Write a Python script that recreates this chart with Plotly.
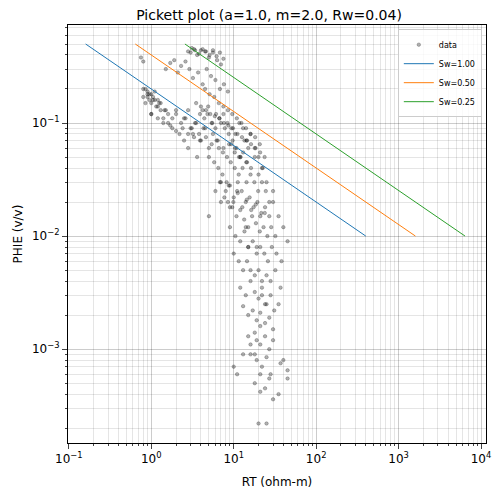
import plotly.graph_objects as go

a, m, n, Rw = 1.0, 2.0, 2.0, 0.04
sw_values = [1.00, 0.50, 0.25]
sw_colors = ["#1f77b4", "#ff7f0e", "#2ca02c"]
phi_ends = [0.5, 0.01]

rt = [0.75,0.8,0.85,0.9,0.95,1.0,1.05,1.1,1.2,1.3,0.8,0.9,1.0,1.1,1.25,1.4,1.5,0.9,1.0,1.2,
      1.5,1.7,1.9,2.1,2.3,2.6,2.9,1.6,1.8,2.0,2.2,2.5,2.8,3.1,3.5,3.9,4.4,4.9,5.5,6.1,
      3.0,3.3,3.6,4.0,4.5,5.0,5.6,6.3,7.0,3.2,3.7,4.2,4.7,5.3,6.0,6.8,7.6,8.5,
      2.5,2.8,3.2,3.6,4.0,4.5,5.0,5.6,6.2,7.0,7.8,8.7,9.7,10.8,12,13.5,15,
      4.2,4.8,5.4,6.0,6.7,7.5,8.4,9.4,10.5,11.7,13,14.5,16,18,20,22,
      5.0,5.8,6.6,7.4,8.3,9.3,10.4,11.6,13,14.5,16.2,18,20,22.5,25,
      6.5,7.3,8.2,9.2,10.3,11.5,12.8,14.3,16,17.8,19.8,22,24.5,27,30,
      7.0,8.0,9.0,10,11.2,12.5,14,15.6,17.4,19.4,21.6,24,27,30,35,
      8.5,9.6,10.8,12,13.4,15,16.7,18.6,20.7,23,25.6,28.5,32,40,45,
      9.0,10.5,12,13.5,15,17,19,21,23.5,26,29,33,38,
      10,11.5,13,14.5,16,18,20,22,25,28,32,37,
      12,14,16,18,20,22,25,28,31,35,
      13,15,17,19,21,24,27,30,
      15,18,21,24,27,30,40,45,
      16,19,22,25,28,
      18,21,24,27,35,
      20,25,10,13,16,
      5,7,9,11,14,19,
      21,30,37,45,
      15,22,24,
      11,18,19,21,
      0.8,0.85,0.95,1.05,1.15,1.3,1.45,1.6,1.8,2.0,2.3,2.6,3.0,3.4,3.8,4.3,
      1.0,1.2,1.4,1.7,2.0,2.4,2.8,3.3,3.9,4.6,5.4,6.4,7.5,8.8,10.3,12.1,14.2,
      3.5,4.0,4.6,5.2,5.9,6.7,7.6,8.6,9.8,11.1,12.6,14.3,16.2,18.4,20.9,23.7,
      4.5,5.1,5.8,6.6,7.5,8.5,9.6,10.9,12.4,14.1,16,18.2,20.7,
      6,6.8,7.7,8.7,9.9,11.2,12.7,14.4,16.3,18.5,21,23.8,
      2.8,3.1,3.4,3.8,4.2,4.6,5.1,5.6,6.2,6.8,7.5]
phie = [0.38,0.35,0.2,0.18,0.16,0.15,0.17,0.19,0.14,0.13,0.2,0.17,0.12,0.16,0.15,0.11,0.13,0.19,0.18,0.16,
        0.3,0.34,0.36,0.28,0.32,0.35,0.3,0.1,0.09,0.12,0.08,0.11,0.13,0.09,0.1,0.12,0.11,0.14,0.1,0.12,
        0.42,0.45,0.4,0.44,0.43,0.38,0.42,0.36,0.33,0.25,0.28,0.22,0.3,0.26,0.24,0.2,0.22,0.19,
        0.07,0.06,0.08,0.05,0.07,0.09,0.06,0.08,0.07,0.1,0.09,0.08,0.07,0.06,0.05,0.07,0.06,
        0.13,0.12,0.1,0.09,0.11,0.12,0.1,0.09,0.08,0.1,0.09,0.07,0.08,0.06,0.05,0.04,
        0.05,0.045,0.06,0.055,0.05,0.065,0.06,0.05,0.055,0.045,0.04,0.05,0.035,0.04,0.03,
        0.04,0.035,0.03,0.045,0.04,0.035,0.04,0.03,0.035,0.03,0.025,0.03,0.025,0.02,0.025,
        0.03,0.025,0.028,0.022,0.03,0.025,0.02,0.022,0.018,0.02,0.016,0.018,0.015,0.02,0.015,
        0.02,0.018,0.015,0.017,0.014,0.012,0.015,0.013,0.011,0.012,0.01,0.012,0.01,0.012,0.009,
        0.012,0.01,0.009,0.011,0.008,0.009,0.007,0.008,0.007,0.006,0.008,0.007,0.006,
        0.007,0.006,0.005,0.006,0.005,0.0045,0.005,0.004,0.0045,0.004,0.005,0.0035,
        0.0035,0.003,0.004,0.0032,0.0028,0.003,0.0025,0.003,0.0022,0.0025,
        0.0024,0.002,0.0022,0.0018,0.0021,0.0017,0.0019,0.0015,
        0.0013,0.0014,0.0011,0.0013,0.001,0.0012,0.0008,0.00065,
        0.0009,0.0008,0.0007,0.00085,0.0006,
        0.0005,0.0006,0.00045,0.00055,0.0004,
        0.00022,0.00022,0.0007,0.0009,0.0011,
        0.015,0.02,0.018,0.025,0.012,0.008,
        0.00042,0.00036,0.00075,0.00055,
        0.008,0.0035,0.0025,
        0.0006,0.0009,0.0012,0.0016,
        0.17,0.15,0.18,0.16,0.14,0.15,0.13,0.12,0.11,0.13,0.1,0.11,0.09,0.1,0.08,0.09,
        0.12,0.11,0.1,0.095,0.085,0.09,0.08,0.075,0.07,0.075,0.065,0.07,0.06,0.065,0.055,0.05,0.045,
        0.15,0.14,0.13,0.12,0.115,0.11,0.1,0.095,0.09,0.08,0.075,0.07,0.065,0.06,0.055,0.05,
        0.2,0.18,0.17,0.15,0.14,0.13,0.12,0.11,0.1,0.09,0.08,0.075,0.065,
        0.025,0.03,0.022,0.028,0.02,0.024,0.018,0.021,0.017,0.019,0.015,0.016,
        0.43,0.46,0.44,0.41,0.45,0.43,0.4,0.44,0.39,0.42,0.37]
x_ticks = [0.1, 1, 10, 100, 1000, 10000]
x_labels = ["10<sup>−1</sup>", "10<sup>0</sup>", "10<sup>1</sup>", "10<sup>2</sup>", "10<sup>3</sup>", "10<sup>4</sup>"]
y_ticks = [0.001, 0.01, 0.1]
y_labels = ["10<sup>−3</sup>", "10<sup>−2</sup>", "10<sup>−1</sup>"]
x_minor = [k * 10 ** e for e in range(-2, 5) for k in range(2, 10)]
y_minor = [k * 10 ** e for e in range(-5, 1) for k in range(2, 10)]

fig = go.Figure()
fig.add_trace(go.Scatter(x=rt, y=phie, mode="markers", name="data",
    marker=dict(color="rgba(0,0,0,0.3)", size=3.5, line=dict(width=0.5, color="rgba(0,0,0,0.45)"))))
for sw, c in zip(sw_values, sw_colors):
    xs = [a * Rw / (p ** m * sw ** n) for p in phi_ends]
    fig.add_trace(go.Scatter(x=xs, y=phi_ends, mode="lines", name=f"Sw={sw:.2f}",
                             line=dict(color=c, width=1)))

grid = "rgba(0,0,0,0.1)"
def ax(minor_vals):
    return dict(type="log", showline=True, linecolor="black", mirror=True, ticks="outside",
                gridcolor="rgba(0,0,0,0.2)", automargin=False,
                minor=dict(tickmode="array", tickvals=minor_vals, showgrid=True, gridcolor=grid,
                           ticks="outside", ticklen=2),
                tickfont=dict(size=12, color="black"), zeroline=False)

fig.update_layout(
    width=502, height=495, plot_bgcolor="white", paper_bgcolor="white",
    margin=dict(l=60, r=24, t=17, b=60),
    font=dict(family="DejaVu Sans", color="black"),
    title=dict(text="Pickett plot (a=1.0, m=2.0, Rw=0.04)", x=0.52, xanchor="center",
               yref="container", y=1.0, yanchor="top", pad=dict(t=2), font=dict(size=14)),
    xaxis=dict(ax(x_minor), range=[-1.01, 4.06], tickvals=x_ticks, ticktext=x_labels,
               title=dict(text="RT (ohm-m)", font=dict(size=12), standoff=12)),
    yaxis=dict(ax(y_minor), range=[-3.83, -0.133], tickvals=y_ticks, ticktext=y_labels,
               title=dict(text="PHIE (v/v)", font=dict(size=12), standoff=6)),
    legend=dict(x=0.99, y=0.99, xanchor="right", yanchor="top", font=dict(size=8),
                bordercolor="#ccc", borderwidth=1, bgcolor="rgba(255,255,255,0.8)",
                itemwidth=30, tracegroupgap=0),
)
fig.write_html("out.html")
